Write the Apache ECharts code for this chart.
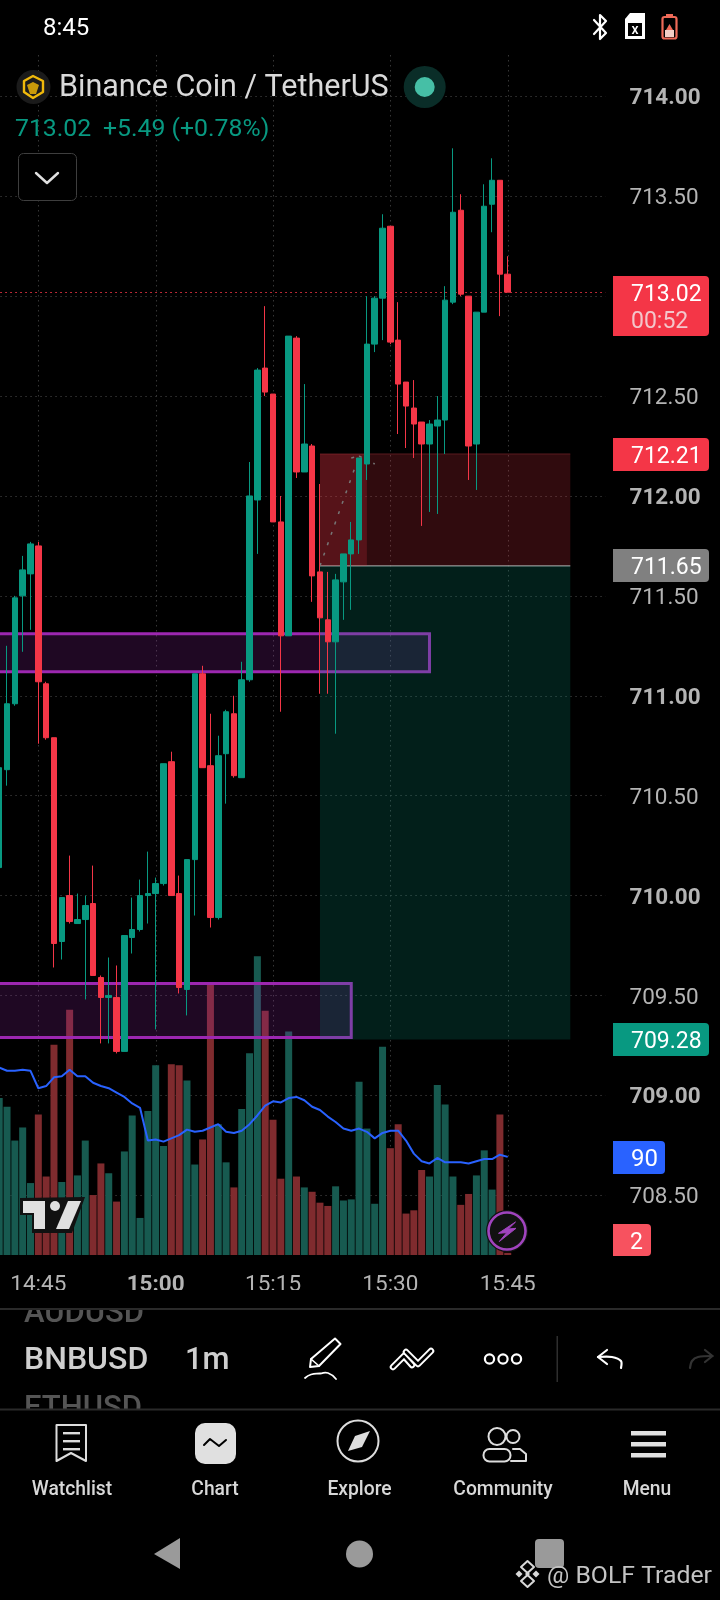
<!DOCTYPE html>
<html>
<head>
<meta charset="utf-8">
<style>html,body{margin:0;padding:0;background:#000}#c{width:720px;height:1600px}</style>
<script src="https://cdn.jsdelivr.net/npm/echarts@6/dist/echarts.min.js"></script>
</head>
<body>
<div id="c"></div>
<script>
// candle index 0 is 14:40; one candle per minute
const startMinute = 14 * 60 + 40;
const slotCount = 78;
const xTickLabels = ['14:45', '15:00', '15:15', '15:30', '15:45'];
const boldXTick = '15:00';
const yTicks = [708.5, 709, 709.5, 710, 710.5, 711, 711.5, 712, 712.5, 713, 713.5, 714];

const opens = [710.14,710.63,710.96,711.50,711.61,711.75,711.06,710.79,709.77,710.00,709.86,709.88,709.96,709.59,709.49,709.49,709.22,709.79,709.83,710.00,710.01,710.06,710.67,710.01,709.53,710.18,711.11,710.65,709.89,710.71,710.91,710.59,711.08,711.98,712.64,712.51,711.87,711.30,712.79,712.12,712.25,711.62,711.38,711.27,711.57,711.71,711.78,712.16,712.76,712.99,713.35,712.78,712.57,712.44,712.37,712.26,712.35,712.38,712.97,713.43,713.00,712.26,712.92,713.46,713.58,713.11];
const closes = [710.64,710.96,711.49,711.63,711.76,711.07,710.79,709.76,709.99,709.87,709.88,709.95,709.60,709.49,709.50,709.22,709.80,709.83,710.00,710.01,710.06,710.66,710.00,709.54,710.18,711.11,710.64,709.89,710.70,710.92,710.60,711.08,712.00,712.63,712.52,711.87,711.30,712.80,712.12,712.26,711.60,711.39,711.27,711.58,711.71,711.78,712.19,712.76,712.99,713.34,712.77,712.56,712.45,712.36,712.26,712.36,712.38,712.98,713.42,713.01,712.25,712.92,713.45,713.58,713.11,713.02];
const lows = [710.14,710.55,710.95,711.22,711.33,710.76,710.78,709.64,709.68,709.86,709.86,709.48,709.60,709.26,709.26,709.21,709.22,709.71,709.82,709.86,709.33,710.05,710.00,709.51,709.40,709.90,710.64,709.84,709.88,710.46,710.59,710.59,711.07,711.71,712.50,711.87,710.92,711.30,712.09,712.12,711.47,711.01,711.01,710.81,711.38,711.43,711.71,712.08,712.72,712.78,712.76,712.31,712.24,712.19,711.85,711.92,711.91,712.21,712.96,713.00,712.08,712.03,712.92,713.32,712.90,713.02];
const highs = [710.64,711.25,711.50,711.70,711.77,711.77,711.07,710.79,709.99,710.20,710.01,710.00,710.15,709.60,709.69,709.65,709.80,709.99,710.08,710.22,710.09,710.66,710.72,710.10,710.18,711.11,711.15,710.91,710.80,710.93,711.00,711.17,712.17,712.64,712.95,712.51,712.00,712.80,712.80,712.56,712.26,712.06,711.62,711.61,711.71,711.87,712.19,713.00,713.00,713.41,713.35,712.97,712.57,712.58,712.37,712.38,712.50,713.05,713.74,713.51,713.00,712.92,713.56,713.69,713.58,713.20];
const volumes = [144,136,105,117,66,129,72,193,67,225,73,105,55,84,75,49,95,128,34,132,174,100,175,174,160,83,106,248,120,85,62,134,185,274,224,124,70,205,72,62,58,48,45,63,50,51,159,116,47,191,98,120,38,41,78,72,156,138,72,46,56,73,96,60,129,2];
const volumeAverage = [172,169,169,170,169,153,155,163,164,170,164,164,158,155,153,149,145,139,135,105,106,104,107,110,115,113,114,117,120,113,112,114,120,128,137,141,140,144,145,142,136,133,127,122,116,114,116,113,107,112,114,114,105,93,86,84,89,85,85,85,84,86,88,88,92,90];

const lastPrice = 713.02;
const entryPrice = 711.65;
const stopPrice = 712.21;
const targetPrice = 709.28;
// support / resistance rectangles and the short-position tool: [from slot, to slot, top price, bottom price]
const purpleZones = [[0, 55, 711.31, 711.12], [0, 45, 709.56, 709.29]];
const positionBoxes = [[41, 73, stopPrice, entryPrice], [41, 73, entryPrice, targetPrice], [41, 47, stopPrice, entryPrice]];
const projectionLine = [[41, entryPrice], [46, 712.20]];
const projectionHead = [[45, 712.19], [46, 712.20], [48, 712.16]];

const UP = '#089981', DOWN = '#F43647';
const VOL_UP = '#175A50', VOL_DOWN = '#7F2B2E';
const categories = [];
for (let k = 0; k < slotCount; k++) {
  const m = startMinute + k;
  categories.push(Math.floor(m / 60) + ':' + String(m % 60).padStart(2, '0'));
}
const isUp = opens.map((o, k) => closes[k] >= o);

const chart = echarts.init(document.getElementById('c'), null, {width: 720, height: 1600});

const F = 'Roboto, sans-serif';
const g = [];
function T(text, x, y, size, fill, weight, align) {
  g.push({type: 'text', z: 100, x, y: y + size * 0.1, style: {text, fill, font: (weight || 400) + ' ' + size + 'px ' + F, textAlign: align || 'left', textVerticalAlign: 'middle'}, silent: true});
}
function R(x, y, width, height, fill, r, stroke, lw) {
  g.push({type: 'rect', z: 100, shape: {x, y, width, height, r: r || 0}, style: {fill: fill || 'transparent', stroke: stroke || null, lineWidth: lw || 1}, silent: true});
}
function C(cx, cy, r, fill, stroke, lw) {
  g.push({type: 'circle', z: 100, shape: {cx, cy, r}, style: {fill: fill || 'transparent', stroke: stroke || null, lineWidth: lw || 1}, silent: true});
}
function P(points, fill, stroke, lw) {
  g.push({type: 'polygon', z: 100, shape: {points}, style: {fill: fill || 'transparent', stroke: stroke || null, lineWidth: lw || 1, lineJoin: 'round'}, silent: true});
}
function L(points, stroke, lw, smooth) {
  g.push({type: 'polyline', z: 100, shape: {points, smooth: smooth || 0}, style: {fill: null, stroke, lineWidth: lw || 1, lineJoin: 'round', lineCap: 'round'}, silent: true});
}

// status bar
T('8:45', 43, 27, 24, '#ffffff');
L([[594, 20], [606, 33], [600, 39], [600, 15], [606, 21], [594, 34]], '#ffffff', 2.2);
P([[630, 13], [645, 13], [645, 39], [625, 39], [625, 19]], '#ffffff');
R(628, 23, 14, 13, '#000000');
T('x', 635, 29, 14, '#ffffff', 500, 'center');
R(662.5, 17, 14, 21.5, null, 2, '#EF6A58', 2.2);
R(666, 14, 7, 3, '#EF6A58');
R(665, 30, 9, 7, '#F4CFC6');
P([[669.5, 24], [673, 30], [666, 30]], '#EF6A58');

// legend
C(33.5, 87, 17, '#1B1B1B');
P([[33, 76], [43, 81], [43, 92], [33, 98], [24, 92], [24, 81]], null, '#F0B90B', 2.4);
P([[33, 82], [39, 85], [36, 94], [30, 94], [27, 85]], '#C99A0A');
T('Binance Coin / TetherUS', 59, 85, 30.5, '#DADADA');
C(424.7, 87, 21, '#0A2D28');
C(424.7, 87, 10, '#46BFA6');
T('713.02', 15, 127, 24.8, UP);
T('+5.49 (+0.78%)', 103, 127, 24.8, UP);
R(18.5, 153.5, 58, 47, '#000000', 5, '#3E3E3E', 1);
L([[36, 173], [47, 183], [58, 173]], '#E0E0E0', 2.4);

// price badges
function badge(x, y, w, h, fill) {
  R(x, y, w, h, fill, [0, 4, 4, 0]);
}
badge(613, 276, 96, 60, '#F43647');
T('713.02', 631, 293, 23, '#FFFFFF');
T('00:52', 631, 320, 23, '#F3C6CB');
badge(613, 438, 96, 33, '#F43647');
T('712.21', 631, 455, 23, '#FFFFFF');
badge(613, 549, 96, 33, '#808080');
T('711.65', 631, 566, 23, '#FFFFFF');
badge(613, 1023, 96, 33, UP);
T('709.28', 631, 1040, 23, '#FFFFFF');
badge(613, 1141, 52, 33, '#2962FF');
T('90', 631, 1158, 24, '#FFFFFF');
badge(613, 1224, 38, 32, '#F7525F');
T('2', 630, 1241, 23, '#FFFFFF');

// TradingView badge
P([[20, 1198], [85, 1197], [72, 1233], [32, 1233], [32, 1215], [20, 1215]], '#111111');
P([[23, 1201], [45, 1201], [45, 1229], [34, 1229], [34, 1213], [23, 1213]], '#E0E0E0');
C(55, 1206, 5, '#E0E0E0');
P([[68, 1201], [81, 1201], [69, 1229], [56, 1229]], '#E0E0E0');

// lightning button
C(507, 1231, 21, '#111111');
C(507, 1231, 18.5, '#111111', '#A044BE', 2.6);
P([[515.5, 1222], [498.5, 1233.3], [506.7, 1232.7], [499.3, 1241.5], [516, 1228.3], [508.3, 1229]], '#A044BE', '#A044BE', 1);

// toolbar
T('AUDUSD', 24, 1311, 31, '#555555', 500);
T('ETHUSD', 24, 1406, 31, '#555555', 500);
R(0, 1290, 720, 18, '#000000');
R(0, 1410, 720, 12, '#000000');
R(0, 1308, 720, 2, '#2A2A2A');
R(0, 1408.5, 720, 2, '#2A2A2A');
T('BNBUSD', 24, 1358, 32, '#CFCFCF', 500);
T('1m', 185, 1358, 31, '#CFCFCF', 500);
P([[335, 1338.5], [340.5, 1344], [319, 1366], [310, 1367], [311, 1359]], null, '#FFFFFF', 2);
L([[311, 1359], [319, 1366]], '#FFFFFF', 1.6);
L([[305, 1378], [311, 1374.5], [320, 1373.5], [328, 1373], [336, 1379]], '#FFFFFF', 1.8, 0.5);
const chevA = [[393, 1367], [404, 1356], [412, 1365]];
const chevB = [[406, 1352], [418, 1364], [431, 1351]];
L(chevA, '#FFFFFF', 6.5); L(chevA, '#000000', 2.6);
L(chevB, '#FFFFFF', 6.5); L(chevB, '#000000', 2.6);
C(489.5, 1359, 4.6, null, '#FFFFFF', 2.2);
C(503, 1359, 4.6, null, '#FFFFFF', 2.2);
C(516.5, 1359, 4.6, null, '#FFFFFF', 2.2);
R(556.5, 1336, 1.5, 46, '#2E2E2E');
L([[607, 1350], [598, 1357], [607, 1364]], '#FFFFFF', 2.2);
L([[598, 1357], [612, 1357], [621, 1361], [621, 1368]], '#FFFFFF', 2.2, 0.3);
L([[705, 1350], [712.5, 1356], [705, 1362]], '#333333', 2.2);
L([[712.5, 1356], [698, 1357], [692, 1361], [690, 1368]], '#333333', 2.2, 0.3);

// bottom navigation
P([[56.5, 1425], [86, 1425], [86, 1461], [71, 1453], [56.5, 1461]], null, '#DDDDDD', 2);
R(63, 1432, 17, 2.4, '#DDDDDD'); R(63, 1440, 17, 2.4, '#DDDDDD'); R(63, 1448, 17, 2.4, '#DDDDDD');
R(195, 1423, 41, 41, '#E0E0E0', 10);
L([[204, 1445], [210, 1439], [219, 1446], [226, 1440]], '#000000', 2);
C(358, 1441, 20.5, null, '#DDDDDD', 2);
P([[370, 1431], [362, 1447], [348, 1451], [355, 1436]], '#DDDDDD');
C(497, 1436.5, 8.5, null, '#DDDDDD', 2);
C(513, 1436.5, 6.5, null, '#DDDDDD', 2);
R(483.5, 1449, 27, 12.5, null, 6, '#DDDDDD', 2);
L([[513, 1449], [520, 1449], [526, 1454], [526, 1461], [511, 1461]], '#DDDDDD', 2);
R(631, 1431, 35, 4.6, '#E0E0E0'); R(631, 1442, 35, 4.6, '#E0E0E0'); R(631, 1453, 35, 4.6, '#E0E0E0');
T('Watchlist', 72, 1488, 19.3, '#D8D8D8', 500, 'center');
T('Chart', 215, 1488, 19.3, '#D8D8D8', 500, 'center');
T('Explore', 359.5, 1488, 19.3, '#D8D8D8', 500, 'center');
T('Community', 503, 1488, 19.3, '#D8D8D8', 500, 'center');
T('Menu', 647, 1488, 19.3, '#D8D8D8', 500, 'center');

// android nav and watermark
P([[180, 1538], [180, 1569], [154, 1554]], '#9A9A9A');
C(359.5, 1554, 13.5, '#9A9A9A');
R(535, 1539, 29, 29, '#9A9A9A', 4);
P([[527.5, 1561], [534, 1567], [527.5, 1573], [521, 1567]], null, '#D8D8D8', 2);
P([[527.5, 1575], [534, 1581], [527.5, 1587], [521, 1581]], null, '#D8D8D8', 2);
P([[519, 1570.5], [522.5, 1574], [519, 1577.5], [515.5, 1574]], '#D8D8D8');
P([[536, 1570.5], [539.5, 1574], [536, 1577.5], [532.5, 1574]], '#D8D8D8');
P([[527.5, 1571.5], [530, 1574], [527.5, 1576.5], [525, 1574]], '#D8D8D8');
T('@ BOLF Trader', 547, 1574, 24.8, '#C4C4C4', 400);

const DOT = '#363636';
const boxStyles = [
  {fill: 'rgba(242,54,69,0.2)', top: '#5A1A1E'},
  {fill: 'rgba(8,153,129,0.2)'},
  {fill: 'rgba(242,54,69,0.2)'}
];

chart.setOption({
  animation: false,
  backgroundColor: '#000000',
  grid: {left: -4.7, top: 55, width: 610.2, height: 1200, outerBoundsMode: 'none'},
  xAxis: {
    type: 'category',
    data: categories,
    boundaryGap: true,
    axisLine: {show: false},
    axisTick: {show: false},
    axisLabel: {
      interval: (index) => xTickLabels.includes(categories[index]),
      hideOverlap: false,
      margin: 19,
      formatter: (v) => v === boldXTick ? '{b|' + v + '}' : '{r|' + v + '}',
      rich: {
        b: {fontFamily: F, fontSize: 22.5, fontWeight: 'bold', color: '#B4B4B4'},
        r: {fontFamily: F, fontSize: 22.5, color: '#B4B4B4'}
      }
    },
    splitLine: {show: false}
  },
  yAxis: [{
    type: 'value',
    position: 'right',
    min: 708.201,
    max: 714.207,
    scale: true,
    axisLine: {show: false},
    axisTick: {show: false, customValues: yTicks},
    axisLabel: {
      customValues: yTicks,
      margin: 24,
      showMinLabel: true,
      showMaxLabel: true,
      hideOverlap: false,
      formatter: (v) => Number.isInteger(v) ? '{b|' + v.toFixed(2) + '}' : '{r|' + v.toFixed(2) + '}',
      rich: {
        b: {fontFamily: F, fontSize: 22.5, fontWeight: 'bold', color: '#B4B4B4', padding: [5, 0, 0, 0]},
        r: {fontFamily: F, fontSize: 22.5, color: '#B4B4B4', padding: [5, 0, 0, 0]}
      }
    },
    splitLine: {show: true, lineStyle: {color: DOT, width: 1, type: [1.5, 3.5]}}
  }, {
    type: 'value',
    min: 0,
    max: 1100.9,
    show: false,
    splitLine: {show: false}
  }],
  series: [
    {
      // vertical time grid on the candle centres
      type: 'custom',
      name: 'timeGrid',
      coordinateSystem: 'cartesian2d',
      z: 1,
      silent: true,
      clip: true,
      data: xTickLabels.map((t) => [categories.indexOf(t)]),
      encode: {x: 0},
      renderItem: (params, api) => {
        const p = api.coord([api.value(0), 710]);
        const cs = params.coordSys;
        const x = Math.round(p[0]) + 0.5;
        return {type: 'line', shape: {x1: x, y1: cs.y, x2: x, y2: cs.y + cs.height},
          style: {stroke: DOT, lineWidth: 1, lineDash: [1.5, 3.5]}};
      }
    },
    {
      type: 'bar',
      name: 'Volume',
      xAxisIndex: 0,
      yAxisIndex: 1,
      z: 2,
      barWidth: 7,
      silent: true,
      data: volumes.map((v, k) => ({value: v, itemStyle: {color: isUp[k] ? VOL_UP : VOL_DOWN}}))
    },
    {
      type: 'custom',
      name: 'Zones',
      coordinateSystem: 'cartesian2d',
      z: 3,
      silent: true,
      clip: true,
      data: purpleZones,
      encode: {x: [0, 1], y: [2, 3]},
      renderItem: (params, api) => {
        const a = api.coord([api.value(0), api.value(2)]);
        const b = api.coord([api.value(1), api.value(3)]);
        const bleed = api.size([1, 0])[0] * 3;
        return {type: 'rect', shape: {x: a[0] - bleed, y: a[1], width: b[0] - a[0] + bleed, height: b[1] - a[1]},
          style: {fill: 'rgba(156,39,176,0.2)', stroke: '#9C27B0', lineWidth: 3}};
      }
    },
    {
      type: 'custom',
      name: 'Position',
      coordinateSystem: 'cartesian2d',
      z: 4,
      silent: true,
      clip: true,
      data: positionBoxes,
      encode: {x: [0, 1], y: [2, 3]},
      renderItem: (params, api) => {
        const a = api.coord([api.value(0), api.value(2)]);
        const b = api.coord([api.value(1), api.value(3)]);
        const st = boxStyles[params.dataIndex];
        const children = [{type: 'rect', shape: {x: a[0], y: a[1], width: b[0] - a[0], height: b[1] - a[1]}, style: {fill: st.fill}}];
        if (st.top) {
          children.push({type: 'line', shape: {x1: a[0], y1: a[1], x2: b[0], y2: a[1]}, style: {stroke: st.top, lineWidth: 1}});
          children.push({type: 'line', shape: {x1: a[0], y1: b[1], x2: b[0], y2: b[1]}, style: {stroke: '#9A9A9A', lineWidth: 1.4}});
        }
        return {type: 'group', children};
      }
    },
    {
      type: 'line',
      name: 'Volume MA',
      xAxisIndex: 0,
      yAxisIndex: 1,
      z: 5,
      symbol: 'none',
      silent: true,
      lineStyle: {color: '#2962FF', width: 2},
      data: volumeAverage
    },
    {
      type: 'candlestick',
      name: 'BNB/USDT',
      z: 7,
      barWidth: 6,
      silent: true,
      itemStyle: {color: UP, color0: DOWN, borderColor: UP, borderColor0: DOWN, borderWidth: 1},
      data: opens.map((o, k) => [o, closes[k], lows[k], highs[k]]),
      markLine: {
        z: 6,
        silent: true,
        symbol: 'none',
        animation: false,
        label: {show: false},
        data: [
          {yAxis: lastPrice, lineStyle: {color: '#F43647', width: 1, type: [1.5, 3.5]}},
          [{coord: projectionLine[0], lineStyle: {color: '#777777', width: 1.5, type: [3, 8]}}, {coord: projectionLine[1]}],
          [{coord: projectionHead[0], lineStyle: {color: '#777777', width: 1.5, type: [3, 5]}}, {coord: projectionHead[1]}],
          [{coord: projectionHead[1], lineStyle: {color: '#777777', width: 1.5, type: [3, 5]}}, {coord: projectionHead[2]}]
        ]
      }
    }
  ],
  graphic: {elements: g}
});
</script>
</body>
</html>
